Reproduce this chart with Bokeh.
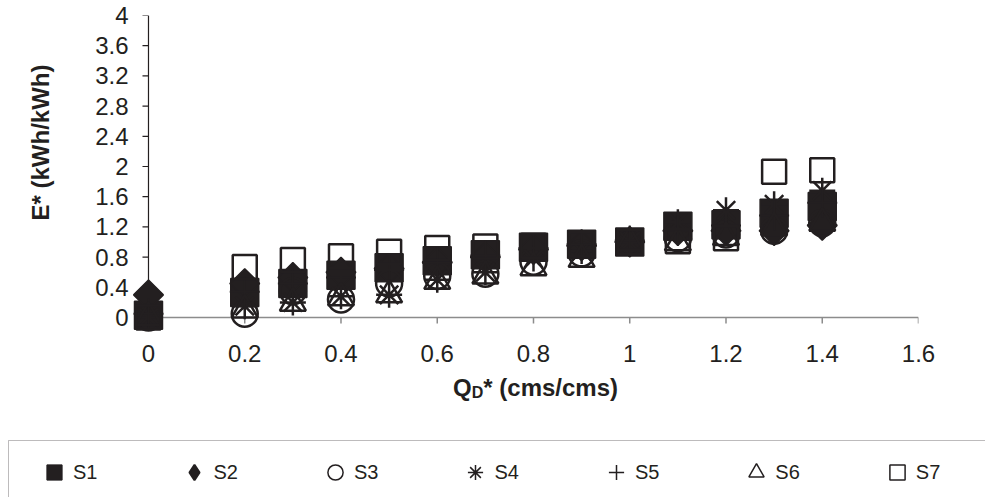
import math
from bokeh.plotting import figure
from bokeh.layouts import column, row
from bokeh.models import Range1d, FixedTicker, Legend, LegendItem, Label, BoxAnnotation
from bokeh.embed import file_html
from bokeh.resources import INLINE

# ---- data ----
q_star = [0, 0.2, 0.3, 0.4, 0.5, 0.6, 0.7, 0.8, 0.9, 1.0, 1.1, 1.2, 1.3, 1.4]
s1 = [0.03, 0.33, 0.45, 0.56, 0.66, 0.75, 0.83, 0.93, 0.97, 1.0, 1.21, 1.23, 1.38, 1.47]
s2 = [0.30, 0.45, 0.53, 0.60, 0.65, 0.73, 0.80, 0.90, 0.95, 1.0, 1.15, 1.15, 1.15, 1.22]
s3 = [0.0, 0.05, 0.35, 0.24, 0.45, 0.55, 0.58, 0.74, 0.85, 1.0, 1.05, 1.10, 1.15, 1.25]
s4 = [0.0, 0.15, 0.20, 0.28, 0.30, 0.50, 0.60, 0.78, 0.88, 1.0, 1.26, 1.42, 1.50, 1.68]
s5 = [0.05, 0.34, 0.45, 0.53, 0.63, 0.73, 0.82, 0.92, 0.97, 1.02, 1.15, 1.22, 1.35, 1.52]
s6 = [0.0, 0.10, 0.19, 0.26, 0.30, 0.48, 0.55, 0.66, 0.77, 1.0, 0.99, 1.06, 1.19, 1.25]
s7 = [0.0, 0.67, 0.76, 0.81, 0.87, 0.92, 0.94, 0.95, 0.97, 1.0, 1.01, 1.05, 1.93, 1.95]
series_names = ["S1", "S2", "S3", "S4", "S5", "S6", "S7"]

x_ticks = [0, 0.2, 0.4, 0.6, 0.8, 1.0, 1.2, 1.4, 1.6]
x_tick_labels = ["0", "0.2", "0.4", "0.6", "0.8", "1", "1.2", "1.4", "1.6"]
y_ticks = [0, 0.4, 0.8, 1.2, 1.6, 2.0, 2.4, 2.8, 3.2, 3.6, 4.0]
y_tick_labels = ["0", "0.4", "0.8", "1.2", "1.6", "2", "2.4", "2.8", "3.2", "3.6", "4"]

INK = "#231f20"
GREY = "#8c8c8c"
FONT = "Liberation Sans"

# marker styles, one per series
styles = [
    dict(marker="square", size=28, fill_color=INK, line_color=INK, line_width=1.5),
    dict(marker="square", angle=math.pi / 4, size=21, fill_color=INK, line_color=INK, line_width=1.5),
    dict(marker="circle", size=26, fill_color=None, line_color=INK, line_width=2.5),
    dict(marker="asterisk", size=26, line_color=INK, line_width=2.5),
    dict(marker="cross", size=30, line_color=INK, line_width=2),
    dict(marker="triangle", size=26, fill_color=None, line_color=INK, line_width=2.5),
    dict(marker="square", size=24, fill_color=None, line_color=INK, line_width=2.5),
]
key_styles = [
    dict(marker="square", fill_color=INK, line_color=INK, line_width=1),
    dict(marker="diamond", fill_color=INK, line_color=INK, line_width=2),
    dict(marker="circle", fill_color=None, line_color=INK, line_width=1.5),
    dict(marker="asterisk", line_color=INK, line_width=1.5),
    dict(marker="cross", line_color=INK, line_width=1.5),
    dict(marker="triangle", fill_color=None, line_color=INK, line_width=1.5),
    dict(marker="square", fill_color=None, line_color=INK, line_width=1.5),
]
series = [s1, s2, s3, s4, s5, s6, s7]

TOP_H = 373
BOT_H = 497 - TOP_H

def bare(fig):
    fig.outline_line_color = None
    fig.grid.visible = False
    fig.background_fill_color = "white"
    fig.border_fill_color = "white"

# ---------------- y-axis title strip ----------------
pc = figure(width=90, height=TOP_H, x_range=Range1d(0, 1), y_range=Range1d(0, 1),
            x_axis_location=None, y_axis_location=None, min_border=0,
            output_backend="svg", toolbar_location=None)
bare(pc)
pc.add_layout(Label(x=40, y=194, x_units="screen", y_units="screen", text="E* (kWh/kWh)",
                    angle=math.pi / 2, text_align="center", text_baseline="middle",
                    text_font=FONT, text_font_size="24px", text_font_style="bold", text_color=INK))

# ---------------- main plot ----------------
X_PAD, Y_PAD = 0.0353, 0.2517
p = figure(width=895, height=TOP_H,
           x_range=Range1d(x_ticks[0] - X_PAD, x_ticks[-1]),
           y_range=Range1d(y_ticks[0] - Y_PAD, y_ticks[-1]),
           output_backend="svg", toolbar_location=None,
           min_border_left=41, min_border_right=67,
           min_border_top=15, min_border_bottom=TOP_H - 336)
bare(p)

for ax, ticks, labels, standoff in ((p.xaxis[0], x_ticks, x_tick_labels, 8),
                                    (p.yaxis[0], y_ticks, y_tick_labels, 3)):
    ax.ticker = FixedTicker(ticks=ticks)
    ax.major_label_overrides = dict(zip(ticks, labels))
    ax.axis_line_color = None
    ax.major_tick_line_color = None
    ax.minor_tick_line_color = None
    ax.major_tick_out = 0
    ax.major_tick_in = 0
    ax.major_label_text_font = FONT
    ax.major_label_text_font_size = "24px"
    ax.major_label_text_color = INK
    ax.major_label_standoff = standoff

# axis lines and tick marks at the data origin (under the markers)
TICK_PX = 6
tx = TICK_PX * (x_ticks[-1] - x_ticks[0] + X_PAD) / 787.0
ty = TICK_PX * (y_ticks[-1] - y_ticks[0] + Y_PAD) / 321.0
p.segment(x0=[x_ticks[0]], y0=[y_ticks[0]], x1=[x_ticks[-1]], y1=[y_ticks[0]], line_color=GREY, line_width=1.5)
p.segment(x0=x_ticks, y0=[y_ticks[0]] * len(x_ticks), x1=x_ticks, y1=[y_ticks[0] - ty] * len(x_ticks),
          line_color=GREY, line_width=1.5)
p.segment(x0=[x_ticks[0]], y0=[y_ticks[0]], x1=[x_ticks[0]], y1=[y_ticks[-1]], line_color=INK, line_width=1.2)
p.segment(x0=[x_ticks[0]] * len(y_ticks), y0=y_ticks, x1=[x_ticks[0] - tx] * len(y_ticks), y1=y_ticks,
          line_color=INK, line_width=1.2)

for s, st in zip(series, styles):
    p.scatter(q_star, s, **st)

# ---------------- x-axis title + legend strip ----------------
pb = figure(width=985, height=BOT_H, x_range=Range1d(-3, -2), y_range=Range1d(-3, -2),
            x_axis_location=None, y_axis_location=None, min_border=0,
            output_backend="svg", toolbar_location=None)
bare(pb)

def lab(x, y, text, size, **kw):
    pb.add_layout(Label(x=x, y=y, x_units="screen", y_units="screen", text=text,
                        text_font=FONT, text_font_size=size, text_font_style="bold",
                        text_color=INK, **kw))

lab(452.5, 110.5, "Q", "24px", text_align="left", text_baseline="alphabetic")
lab(471.2, 105.0, "D", "16px", text_align="left", text_baseline="alphabetic")
lab(482.8, 110.5, "* (cms/cms)", "24px", text_align="left", text_baseline="alphabetic")

# legend frame (open at the right and bottom, like the reference crop)
pb.add_layout(BoxAnnotation(left=8, right=1200, top=BOT_H - 67, bottom=-40,
                            left_units="screen", right_units="screen",
                            top_units="screen", bottom_units="screen",
                            fill_color=None, fill_alpha=0, line_color=INK, line_width=1))

# legend keys: same series, drawn outside this strip's ranges so only the key shows
items = []
for name, s, st in zip(series_names, series, key_styles):
    r = pb.scatter(q_star, s, size=15, **st)
    items.append(LegendItem(label=name, renderers=[r]))

legend = Legend(items=items, orientation="horizontal", location=(35, 6),
                padding=9, spacing=78, glyph_width=38, glyph_height=38,
                label_standoff=0,
                label_text_font=FONT, label_text_font_size="20px",
                label_text_color=INK, border_line_color=None,
                background_fill_alpha=0)
pb.add_layout(legend)

layout = column(row(pc, p), pb)
open("out.html", "w").write(file_html(layout, INLINE))
